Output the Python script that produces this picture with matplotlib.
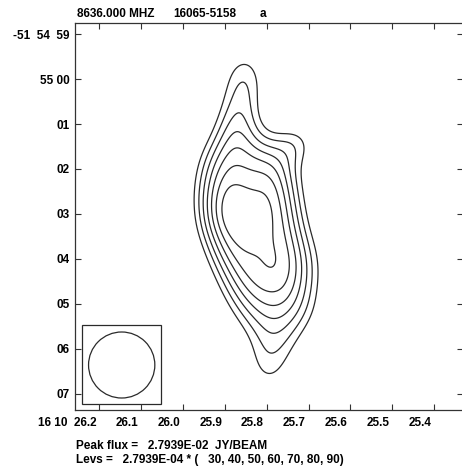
import numpy as np
import matplotlib
matplotlib.use('Agg')
import matplotlib.pyplot as plt
from matplotlib.patches import Ellipse, Rectangle
import matplotlib.transforms as mtransforms

plt.rcParams['font.family'] = ['Liberation Sans', 'DejaVu Sans']

# map header
freq_label = '8636.000 MHZ'
source_name = '16065-5158'
panel_tag = 'a'

peak_flux = 2.7939e-02      # JY/BEAM
lev_unit = 2.7939e-04
lev_mults = [30, 40, 50, 60, 70, 80, 90]

# RA in seconds past 16h10m, Dec in arcsec from -51d55m00s (north positive)
ra_ticks = [26.2, 26.1, 26.0, 25.9, 25.8, 25.7, 25.6, 25.5, 25.4]
ra_ticklabels = ['16 10  26.2', '26.1', '26.0', '25.9', '25.8', '25.7', '25.6', '25.5', '25.4']
dec_ticks = [1, 0, -1, -2, -3, -4, -5, -6, -7]
dec_ticklabels = ['-51  54  59', '55 00', '01', '02', '03', '04', '05', '06', '07']

# source model: gaussian components (RA s, Dec ", sigma RA ", sigma Dec ", rel. amplitude)
comp_ra = [25.8519, 25.8615, 25.8734,
           25.8974, 25.7921, 25.9022, 25.7873, 25.8974, 25.7778,
           25.8734, 25.7634, 25.8495, 25.7586, 25.8256, 25.7347,
           25.7778, 25.7969, 25.7251, 25.8591, 25.7060]
comp_dec = [0.200, -0.467, -1.133,
            -1.800, -1.800, -2.467, -2.467, -3.133, -3.133,
            -3.800, -3.800, -4.467, -4.467, -5.133, -5.133,
            -5.800, -6.500, -1.400, -2.956, -4.133]
comp_sx = [0.40] * 3 + [0.489] * 13 + [0.44, 0.356, 0.489, 0.556]
comp_sy = [0.489] * 16 + [0.56, 0.356, 0.489, 0.556]
comp_amp = [0.26, 0.246, 0.334,
            0.385, 0.385, 0.45, 0.45, 0.49, 0.45,
            0.47, 0.41, 0.38, 0.38, 0.28, 0.28,
            0.22, 0.25, 0.22, 0.12, 0.12]

# restoring beam FWHM (arcsec), circular
beam_fwhm = 1.467
beam_ra, beam_dec = 26.1469, -6.356

cosd = np.cos(np.radians(51.917))
ra_scale = 15.0 * cosd      # arcsec per RA second

ra = np.linspace(26.27, 25.32, 500)
dec = np.linspace(1.3, -7.4, 500)
RA, DEC = np.meshgrid(ra, dec)
field = np.zeros_like(RA)
for r0, d0, sx, sy, a in zip(comp_ra, comp_dec, comp_sx, comp_sy, comp_amp):
    dx = (RA - r0) * ra_scale
    dy = DEC - d0
    field += a * np.exp(-0.5 * ((dx / sx) ** 2 + (dy / sy) ** 2))
field = field / field.max() * peak_flux
levels = [lev_unit * m for m in lev_mults]

W, H = 462, 468
fig = plt.figure(figsize=(W / 100, H / 100), dpi=100)
ax = fig.add_axes([75 / W, 58 / H, (462.5 - 75) / W, (410 - 23.3) / H])

ax.contour(RA, DEC, field, levels=levels, colors='#2a2a2a', linewidths=0.9)

# beam in the lower-left corner
ax.add_patch(Rectangle((26.2426, -7.222), 26.0536 - 26.2426, -5.467 + 7.222,
                       fill=False, edgecolor='#2a2a2a', linewidth=0.9))
ax.add_patch(Ellipse((beam_ra, beam_dec), beam_fwhm / ra_scale, beam_fwhm,
                     fill=False, edgecolor='#2a2a2a', linewidth=0.9))

ax.set_xlim(26.2586, 25.3316)
ax.set_ylim(-7.356, 1.238)

ax.set_xticks(ra_ticks)
ax.set_xticklabels(ra_ticklabels, ha='right')
ax.set_yticks(dec_ticks)
ax.set_yticklabels(dec_ticklabels)
ax.tick_params(direction='in', length=4, width=0.8, top=True, right=True,
               labelsize=8.5, color='#333333')
ax.tick_params(axis='x', pad=5)
ax.tick_params(axis='y', pad=4)
for lab in ax.get_xticklabels() + ax.get_yticklabels():
    lab.set_fontweight('bold')
shift = mtransforms.ScaledTranslation(-2 / 72, 0, fig.dpi_scale_trans)
for lab in ax.get_xticklabels():
    lab.set_transform(lab.get_transform() + shift)
for sp in ax.spines.values():
    sp.set_linewidth(0.9)
    sp.set_color('#333333')

def ftext(x, y, s):
    fig.text(x / W, 1 - y / H, s, fontsize=8.5, fontweight='bold', va='center', ha='left')

ftext(77, 14, freq_label)
ftext(173, 14, source_name)
ftext(260, 14, panel_tag)
ftext(76, 446, 'Peak flux =   %.4E  JY/BEAM' % peak_flux)
ftext(76, 460, 'Levs =   %.4E * (   %s)' % (lev_unit, ', '.join(str(m) for m in lev_mults)))

fig.savefig('out.png', dpi=100)
